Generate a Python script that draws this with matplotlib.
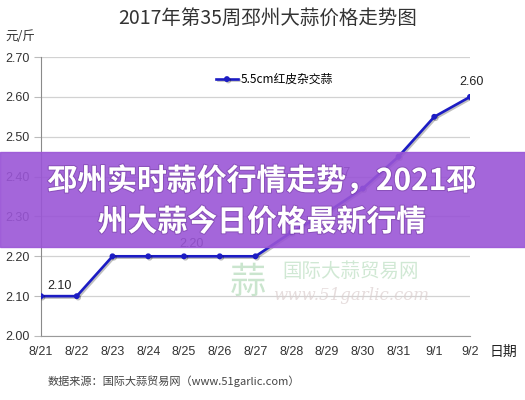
import matplotlib
matplotlib.use("Agg")
import matplotlib.pyplot as plt
import matplotlib.patheffects as pe
from matplotlib.patches import Rectangle

plt.rcParams['font.family'] = ['Liberation Sans', 'Noto Sans CJK SC', 'DejaVu Sans']

# data
dates = ["8/21", "8/22", "8/23", "8/24", "8/25", "8/26", "8/27",
         "8/28", "8/29", "8/30", "8/31", "9/1", "9/2"]
prices = [2.10, 2.10, 2.20, 2.20, 2.20, 2.20, 2.20,
          2.26, 2.31, 2.37, 2.45, 2.55, 2.60]
yticks = [2.00, 2.10, 2.20, 2.30, 2.40, 2.50, 2.60, 2.70]
# which points carry a value label, and the label offsets in pixels
labelled = {0: (18, 10), 4: (8, 12), 9: (-24, 16), 12: (2, 15)}

series_name = "5.5cm红皮杂交蒜"
title = "2017年第35周邳州大蒜价格走势图"
banner_lines = ["邳州实时蒜价行情走势，2021邳", "州大蒜今日价格最新行情"]

line_color = "#1c1cc4"

fig = plt.figure(figsize=(5.25, 4.0), dpi=100)
ax = fig.add_axes([41 / 525, 1 - 336 / 400, 429 / 525, 279 / 400])

x = list(range(len(dates)))
ax.plot(x, prices, color=line_color, lw=1.9, marker='o', ms=3.2,
        label=series_name, zorder=3,
        path_effects=[pe.SimpleLineShadow(offset=(1, -1), alpha=0.25), pe.Normal()])

for i, (dx, dy) in labelled.items():
    ax.annotate(f"{prices[i]:.2f}", (x[i], prices[i]), xytext=(dx, dy),
                textcoords='offset pixels', ha='center', va='center',
                fontsize=9, color='#222222')

ax.set_xlim(0, 12)
ax.set_ylim(2.0, 2.7)
ax.set_yticks(yticks)
ax.set_yticklabels([f"{v:.2f}" for v in yticks])
ax.set_xticks(x)
ax.set_xticklabels(dates)
ax.tick_params(axis='both', labelsize=9, labelcolor='#333333', colors='#bbbbbb', length=0)
ax.tick_params(axis='y', pad=3, length=5, width=0.8)
ax.tick_params(axis='x', pad=7)
ax.grid(axis='y', color='#d2d2d2', lw=0.9)
ax.set_axisbelow(True)
for s in ['top', 'right']:
    ax.spines[s].set_visible(False)
ax.spines['left'].set_color('#8a8a8a')
ax.spines['bottom'].set_color('#9a9a9a')

ax.legend(loc='upper center', bbox_to_anchor=(0.545, 0.98), frameon=False,
          handlelength=1.8, handletextpad=0.3,
          prop={'family': ['Noto Sans CJK SC'], 'size': 8.5})

fig.text(268 / 525, 1 - 18 / 400, title, ha='center', va='center',
         fontsize=14, color='#333333', family=['Noto Sans CJK SC'])
fig.text(5 / 525, 1 - 37 / 400, "元/斤", ha='left', va='center',
         fontsize=9, color='#333333', family=['Noto Sans CJK SC'])
fig.text(503 / 525, 1 - 352 / 400, "日期", ha='center', va='center',
         fontsize=10, color='#222222', family=['Noto Sans CJK SC'])
fig.text(48 / 525, 1 - 381 / 400, "数据来源：国际大蒜贸易网（www.51garlic.com）",
         ha='left', va='center', fontsize=8, color='#444444',
         family=['Noto Sans CJK SC', 'DejaVu Sans'])

# watermark
fig.text(248 / 525, 1 - 283 / 400, "蒜", ha='center', va='center', fontsize=26,
         color='#a8d4ae', alpha=0.6, family=['Noto Sans CJK SC'])
fig.text(351 / 525, 1 - 271 / 400, "国际大蒜贸易网", ha='center', va='center',
         fontsize=14, color='#b2dab8', alpha=0.6, family=['Noto Sans CJK SC'])
fig.text(351 / 525, 1 - 295 / 400, "www.51garlic.com", ha='center', va='center',
         fontsize=12, color='#dccfcf', alpha=0.7, family=['DejaVu Serif'], style='italic')

# purple banner
fig.patches.append(Rectangle((0, 1 - 247 / 400), 1, 95 / 400, transform=fig.transFigure,
                             color='#9a55d6', alpha=0.9, zorder=5))
for txt, yy in zip(banner_lines, [181, 222]):
    fig.text(262 / 525, 1 - yy / 400, txt, ha='center', va='center', fontsize=21.5,
             color='white', weight='bold', zorder=6,
             family=['Noto Sans CJK SC'],
             path_effects=[pe.withStroke(linewidth=1.5, foreground='#5a2a80', alpha=0.35)])

fig.savefig("out.png", dpi=100)
